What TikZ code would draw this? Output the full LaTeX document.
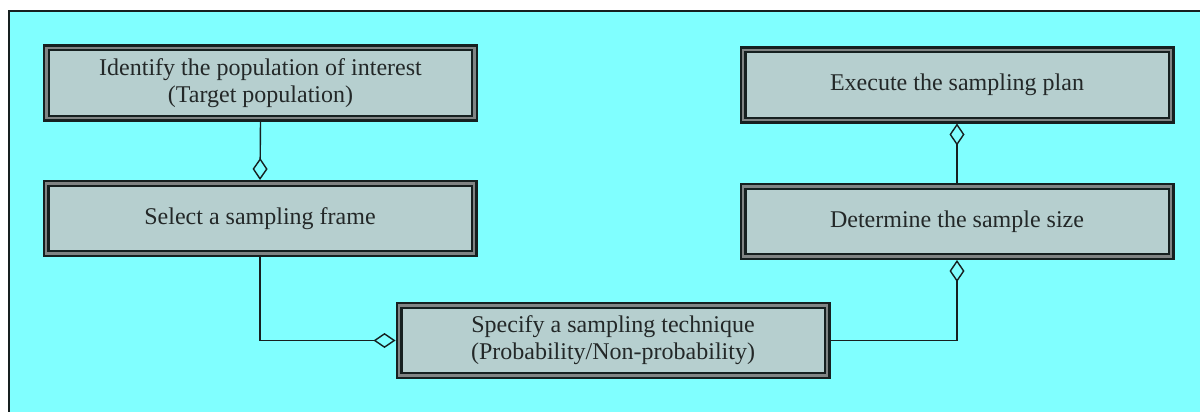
\documentclass[tikz,border=0pt]{standalone}
\usepackage{fontspec}
\setmainfont{Liberation Serif}
\usetikzlibrary{arrows.meta}
\definecolor{cyanbg}{RGB}{128,255,255}
\definecolor{boxfill}{RGB}{182,207,207}
\definecolor{midgray}{RGB}{128,132,132}
\definecolor{darkline}{RGB}{22,32,32}
\definecolor{txt}{RGB}{35,40,40}
\tikzset{
  stepbox/.style={draw=darkline, line width=2.4pt, double=midgray, double distance=2.2pt,
    fill=boxfill, minimum width=428pt, minimum height=70pt, inner sep=0pt, outer sep=3.5pt,
    align=center, text=txt, font=\fontsize{24}{27}\selectfont},
  conn/.style={draw=darkline, line width=1.4pt, -{Diamond[open, length=22pt, width=15pt, line width=1.4pt]}}
}
\begin{document}
\begin{tikzpicture}[x=1pt,y=-1pt]
\useasboundingbox (0,0) rectangle (1200,412);
\clip (0,0) rectangle (1200,412);
\fill[white] (0,0) rectangle (1200,412);
\draw[line width=2.5pt, draw=darkline, fill=cyanbg] (9,11) rectangle (1220,430);
\node[stepbox] (b1) at (260.5,83) {Identify the population of interest\\(Target population)};
\node[stepbox] (b2) at (260,218.5) {Select a sampling frame};
\node[stepbox] (b3) at (613,340.5) {Specify a sampling technique\\(Probability/Non-probability)};
\node[stepbox] (b4) at (957,221.5) {Determine the sample size};
\node[stepbox] (b5) at (957,85) {Execute the sampling plan};
\draw[conn] (b1.south) -- (b2.north);
\draw[conn] (b2.south) |- (b3.west);
\draw[conn] (b3.east) -| (b4.south);
\draw[conn] (b4.north) -- (b5.south);
\end{tikzpicture}
\end{document}
